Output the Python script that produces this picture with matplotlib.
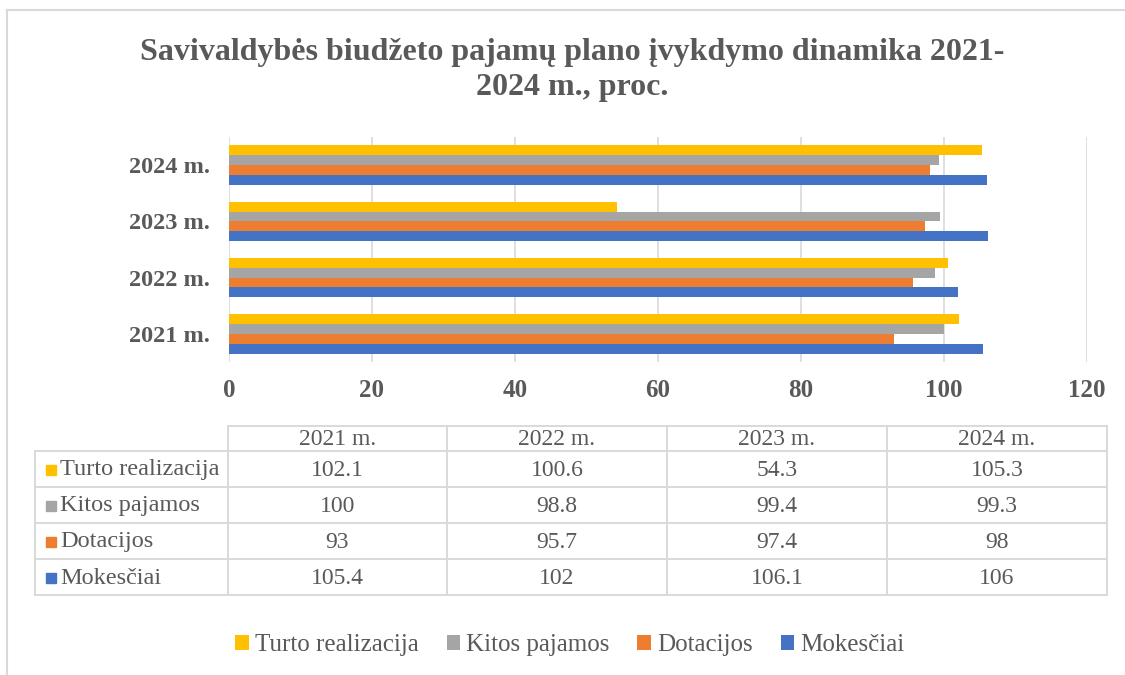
import matplotlib.pyplot as plt
import numpy as np

# data
years = ['2021 m.', '2022 m.', '2023 m.', '2024 m.']
series_names = ['Mokesčiai', 'Dotacijos', 'Kitos pajamos', 'Turto realizacija']
mokesciai = [105.4, 102, 106.1, 106]
dotacijos = [93, 95.7, 97.4, 98]
kitos = [100, 98.8, 99.4, 99.3]
turto = [102.1, 100.6, 54.3, 105.3]
colors = ['#4472C4', '#ED7D31', '#A5A5A5', '#FFC000']
x_ticks = [0, 20, 40, 60, 80, 100, 120]

plt.rcParams['font.family'] = ['Liberation Serif', 'DejaVu Serif']
txt = '#595959'
grid_c = '#D9D9D9'

W, H = 1125, 675
fig = plt.figure(figsize=(W / 100, H / 100), dpi=100)

# overlay axes in pixel coordinates for frame, table
ov = fig.add_axes([0, 0, 1, 1])
ov.set_xlim(0, W)
ov.set_ylim(H, 0)
ov.axis('off')
ov.plot([7, W], [10, 10], color=grid_c, lw=1.5)
ov.plot([7, 7], [10, H], color=grid_c, lw=1.5)

# title
fig.text(572 / W, 1 - 70 / H, 'Savivaldybės biudžeto pajamų plano įvykdymo dinamika 2021-\n2024 m., proc.',
         ha='center', va='center', fontsize=23, fontweight='bold', color=txt, linespacing=1.3)

# bar axes
x0, x1 = 229, 1087
y_top, y_bot = 137, 362
ax = fig.add_axes([x0 / W, 1 - y_bot / H, (x1 - x0) / W, (y_bot - y_top) / H])
all_series = [mokesciai, dotacijos, kitos, turto]
y = np.arange(len(years))
h = 0.175
bars = []
for i, (vals, c, name) in enumerate(zip(all_series, colors, series_names)):
    b = ax.barh(y + (i - 1.5) * h, vals, height=h, color=c, label=name, zorder=3)
    bars.append(b)
ax.set_xlim(0, 120)
ax.set_ylim(-0.5, 3.5)
ax.set_xticks(x_ticks)
ax.set_xticklabels([str(t) for t in x_ticks], fontsize=18, fontweight='bold', color=txt)
ax.set_yticks(y)
ax.set_yticklabels(years, fontsize=17.5, fontweight='bold', color=txt)
ax.tick_params(length=0, pad=14)
ax.tick_params(axis='x', pad=12)
ax.grid(True, axis='x', color=grid_c, lw=1.2, zorder=0)
for s in ax.spines.values():
    s.set_visible(False)

# data table
col_edges = [228, 447, 667, 887, 1107]
row_edges = [426, 451, 487, 523, 559, 595]
label_left = 35
lw = 1.4
# header row
ov.plot([col_edges[0], col_edges[-1]], [row_edges[0], row_edges[0]], color=grid_c, lw=lw)
for r in row_edges[1:]:
    ov.plot([label_left, col_edges[-1]], [r, r], color=grid_c, lw=lw)
for cx in col_edges:
    ov.plot([cx, cx], [row_edges[0], row_edges[-1]], color=grid_c, lw=lw)
ov.plot([label_left, label_left], [row_edges[1], row_edges[-1]], color=grid_c, lw=lw)

for j, yr in enumerate(years):
    cx = (col_edges[j] + col_edges[j + 1]) / 2
    ov.text(cx, (row_edges[0] + row_edges[1]) / 2 + 1, yr, ha='center', va='center',
            fontsize=17, color=txt)

table_rows = [(turto, colors[3], series_names[3]),
              (kitos, colors[2], series_names[2]),
              (dotacijos, colors[1], series_names[1]),
              (mokesciai, colors[0], series_names[0])]
for r, (vals, c, name) in enumerate(table_rows):
    cy = (row_edges[r + 1] + row_edges[r + 2]) / 2 + 1
    ov.add_patch(plt.Rectangle((46, cy - 5), 10, 10, color=c))
    ov.text(60, cy, name, ha='left', va='center', fontsize=17.5, color=txt)
    for j, v in enumerate(vals):
        cx = (col_edges[j] + col_edges[j + 1]) / 2
        ov.text(cx, cy, f'{v:g}', ha='center', va='center', fontsize=17, color=txt)

# legend
handles = bars[::-1]
labels = series_names[::-1]
fig.legend(handles, labels, loc='center', bbox_to_anchor=(570 / W, 1 - 645 / H), ncol=4,
           frameon=False, fontsize=18, labelcolor=txt, handlelength=0.55, handleheight=0.55,
           handletextpad=0.25, columnspacing=1.1)

fig.savefig('out.png', dpi=100)
